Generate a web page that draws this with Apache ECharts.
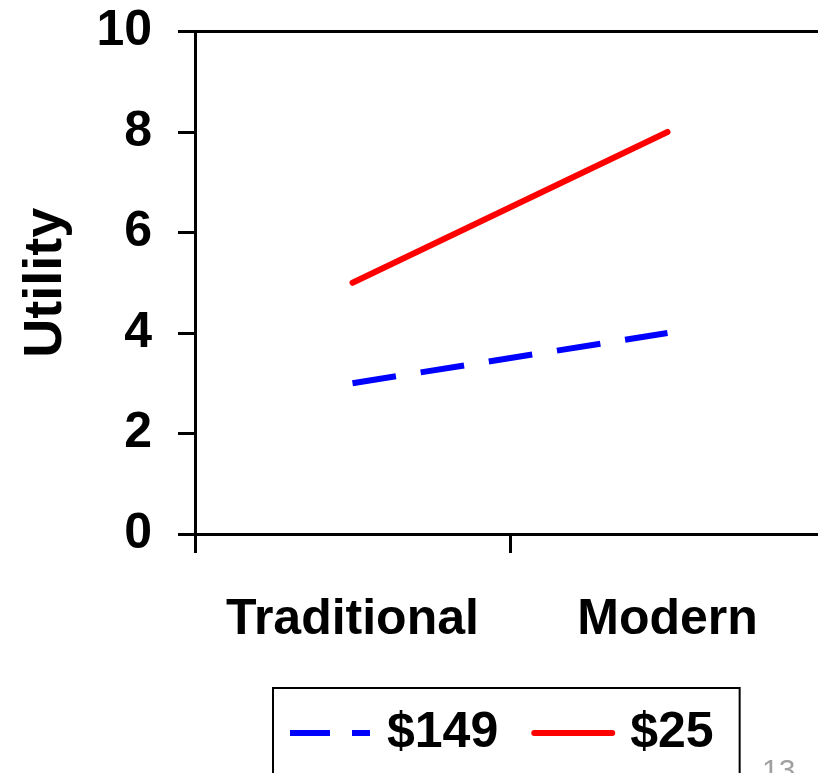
<!DOCTYPE html>
<html>
<head>
<meta charset="utf-8">
<title>Utility by style and price</title>
<script src="https://cdn.jsdelivr.net/npm/echarts@6/dist/echarts.min.js"></script>
<style>
  html, body { margin: 0; padding: 0; background: #fff; }
  #chart { width: 818px; height: 773px; }
</style>
</head>
<body>
<div id="chart"></div>
<script>
// Design styles on the x axis
const styles = ['Traditional', 'Modern'];
// Utility for each price level
const price149 = [3, 4];
const price25 = [5, 8];
const seriesNames = ['$149', '$25'];
// Utility axis range
const yMin = 0;
const yMax = 10;
const yStep = 2;

const FONT = "'Liberation Sans', Arial, sans-serif";
const chart = echarts.init(document.getElementById('chart'), null, { renderer: 'canvas' });

// Legend keys: a broken dash for the $149 line, a round-ended bar for the $25 line
const dashIcon = 'path://M0,0H40V6H0Z M62,0H80V6H62Z';
const solidIcon = 'path://M3,0H81A3,3 0 0 1 81,6H3A3,3 0 0 1 3,0Z';

chart.setOption({
  backgroundColor: '#ffffff',
  animation: false,
  grid: { left: 195, top: 31.5, width: 630, height: 502.5, containLabel: false, outerBoundsMode: 'none' },
  legend: {
    left: 273,
    top: 688,
    orient: 'horizontal',
    data: [
      { name: seriesNames[0], icon: dashIcon, itemStyle: { color: '#0000ff' } },
      { name: seriesNames[1], icon: solidIcon, itemStyle: { color: '#ff0000' } }
    ],
    itemWidth: 84,
    itemHeight: 6,
    itemGap: 33,
    padding: [20, 26, 30, 17],
    borderColor: '#000',
    borderWidth: 2,
    textStyle: { fontFamily: FONT, fontWeight: 'bold', fontSize: 50, color: '#000', padding: [0, 0, 0, 10] }
  },
  xAxis: [
    {
      type: 'category',
      data: styles,
      boundaryGap: true,
      axisLine: { lineStyle: { color: '#000', width: 3 } },
      axisTick: { show: true, length: 19, lineStyle: { color: '#000', width: 3 } },
      axisLabel: { interval: 0, margin: 61, fontFamily: FONT, fontWeight: 'bold', fontSize: 50, color: '#000' },
      splitLine: { show: false }
    },
    {
      // top border of the plot frame
      type: 'category',
      position: 'top',
      data: styles,
      axisLine: { lineStyle: { color: '#000', width: 3 } },
      axisTick: { show: false },
      axisLabel: { show: false },
      splitLine: { show: false }
    }
  ],
  yAxis: {
    type: 'value',
    min: yMin,
    max: yMax,
    interval: yStep,
    name: 'Utility',
    nameLocation: 'middle',
    nameGap: 122,
    nameTextStyle: { fontFamily: FONT, fontWeight: 'bold', fontSize: 54, color: '#000' },
    axisLine: { show: true, lineStyle: { color: '#000', width: 3 } },
    axisTick: { show: true, length: 17, lineStyle: { color: '#000', width: 3 } },
    axisLabel: { margin: 43, fontFamily: FONT, fontWeight: 'bold', fontSize: 50, color: '#000' },
    splitLine: { show: false }
  },
  series: [
    {
      name: seriesNames[0],
      type: 'line',
      data: price149,
      symbol: 'none',
      color: '#0000ff',
      lineStyle: { color: '#0000ff', width: 6, type: [44, 25], cap: 'butt' }
    },
    {
      name: seriesNames[1],
      type: 'line',
      data: price25,
      symbol: 'none',
      color: '#ff0000',
      lineStyle: { color: '#ff0000', width: 6, type: 'solid', cap: 'round' }
    }
  ],
  graphic: [
    {
      type: 'text',
      left: 762,
      top: 757,
      style: { text: '13', fontFamily: FONT, fontSize: 30, fill: '#a0a0a0' }
    }
  ]
});
</script>
</body>
</html>
